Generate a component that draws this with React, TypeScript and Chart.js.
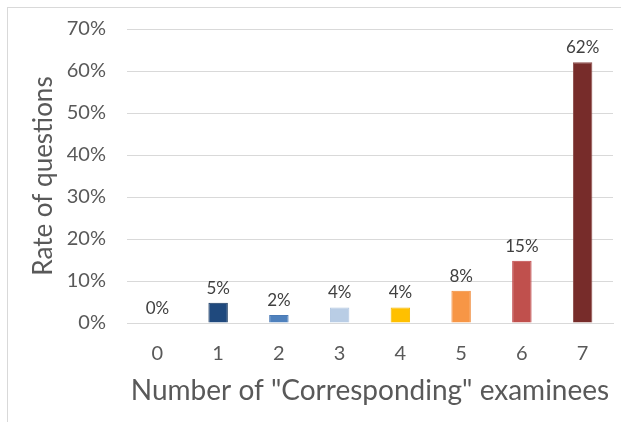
import React, { useEffect, useRef } from "react";
import { Chart, registerables } from "chart.js";

Chart.register(...registerables);

const categories = ["0", "1", "2", "3", "4", "5", "6", "7"];
const rates = [0, 4.8, 1.9, 3.7, 3.7, 7.7, 14.8, 62.1];
const rateLabels = ["0%", "5%", "2%", "4%", "4%", "8%", "15%", "62%"];
const barColors = ["#1f4e79", "#1f497d", "#4f81bd", "#b9cde5", "#ffc000", "#f79646", "#c0504d", "#772c2a"];
const barBorders = ["#1f4e79", "#17375e", "#4a7ab5", "#b0c6e0", "#f5b800", "#f08a3a", "#c0474a", "#8a4a48"];
const yTicks = [0, 10, 20, 30, 40, 50, 60, 70];

const FONT = "Lato, 'Noto Sans', sans-serif";

const labelPlugin = {
  id: "barLabels",
  afterDatasetsDraw(chart: any) {
    const ctx = chart.ctx;
    const meta = chart.getDatasetMeta(0);
    ctx.save();
    ctx.font = `17px ${FONT}`;
    ctx.fillStyle = "#404040";
    ctx.textAlign = "center";
    ctx.textBaseline = "alphabetic";
    meta.data.forEach((el: any, i: number) => {
      ctx.fillText(rateLabels[i], el.x, el.y - 9);
    });
    ctx.restore();
  },
};

export default function App() {
  const ref = useRef<HTMLCanvasElement | null>(null);
  useEffect(() => {
    if (!ref.current) return;
    const chart = new Chart(ref.current, {
      type: "bar",
      data: {
        labels: categories,
        datasets: [
          {
            data: rates,
            backgroundColor: barColors,
            borderColor: barBorders,
            borderWidth: 1,
            categoryPercentage: 1,
            barPercentage: 0.32,
          },
        ],
      },
      options: {
        responsive: false,
        animation: false,
        layout: { padding: { top: 29, right: 8, bottom: 0, left: 0 } },
        plugins: { legend: { display: false }, tooltip: { enabled: false } },
        scales: {
          x: {
            grid: { display: false },
            border: { display: true, color: "#d9d9d9" },
            ticks: { color: "#595959", font: { family: FONT, size: 20 }, padding: 11 },
            title: {
              display: true,
              text: 'Number of "Corresponding" examinees',
              color: "#595959",
              font: { family: FONT, size: 28 },
              padding: { top: 0, bottom: 14 },
            },
            afterFit: (scale: any) => {
              scale.height = 99;
            },
          },
          y: {
            min: 0,
            max: 70,
            afterBuildTicks: (scale: any) => {
              scale.ticks = yTicks.map((v) => ({ value: v }));
            },
            grid: { color: "#d9d9d9", drawTicks: false },
            border: { display: false },
            ticks: {
              color: "#595959",
              font: { family: FONT, size: 20 },
              padding: 21,
              callback: (v: any) => v + "%",
            },
            title: {
              display: true,
              text: "Rate of questions",
              color: "#595959",
              font: { family: FONT, size: 26 },
              padding: { top: 28, bottom: 0 },
            },
            afterFit: (scale: any) => {
              scale.width = 127;
              scale.paddingTop = 0;
              scale.paddingBottom = 0;
            },
          },
        },
      },
      plugins: [labelPlugin],
    });
    return () => chart.destroy();
  }, []);

  return (
    <div style={{ position: "fixed", left: 0, top: 0, width: 621, height: 422, overflow: "hidden", background: "#fff" }}>
      <div
        style={{
          position: "absolute",
          left: 7,
          top: 7,
          width: 700,
          height: 500,
          borderLeft: "1px solid #d9d9d9",
          borderTop: "1px solid #d9d9d9",
        }}
      />
      <canvas ref={ref} width={621} height={422} style={{ position: "absolute", left: 0, top: 0 }} />
    </div>
  );
}
